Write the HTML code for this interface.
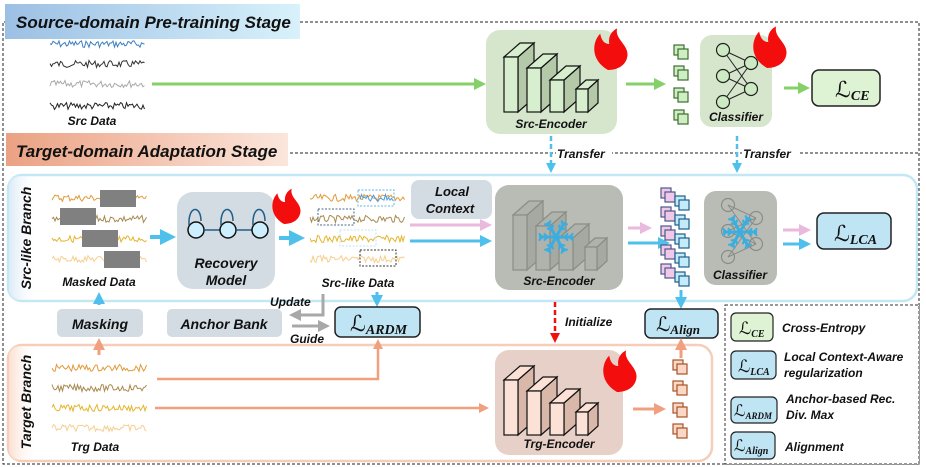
<!DOCTYPE html>
<html><head><meta charset="utf-8">
<style>
html,body{margin:0;padding:0;background:#fff;}
svg{display:block;font-family:"Liberation Sans",sans-serif;}
.t{font-weight:bold;font-style:italic;fill:#111;}
</style></head>
<body>
<svg id="s" width="926" height="467" viewBox="0 0 926 467" xmlns="http://www.w3.org/2000/svg">
<defs>
<linearGradient id="gb" x1="0" x2="1"><stop offset="0" stop-color="#9cc0e4"/><stop offset="1" stop-color="#d8f1fb"/></linearGradient>
<linearGradient id="gs" x1="0" x2="1"><stop offset="0" stop-color="#eba183"/><stop offset="1" stop-color="#fbe6dc"/></linearGradient>
<linearGradient id="gl" x1="0" x2="1"><stop offset="0" stop-color="#dcebf7"/><stop offset="1" stop-color="#fff" stop-opacity="0"/></linearGradient>
<linearGradient id="go" x1="0" x2="1"><stop offset="0" stop-color="#fbe0d3"/><stop offset="1" stop-color="#fff" stop-opacity="0"/></linearGradient>
<marker id="ag" markerWidth="4" markerHeight="4" refX="2" refY="2" orient="auto"><path d="M0,0 L4,2 L0,4z" fill="#86d06a"/></marker>
<marker id="ab" markerWidth="4" markerHeight="4" refX="2" refY="2" orient="auto"><path d="M0,0 L4,2 L0,4z" fill="#4fbfec"/></marker>
<marker id="ap" markerWidth="4" markerHeight="4" refX="2" refY="2" orient="auto"><path d="M0,0 L4,2 L0,4z" fill="#eab9de"/></marker>
<marker id="ao" markerWidth="4" markerHeight="4" refX="2" refY="2" orient="auto"><path d="M0,0 L4,2 L0,4z" fill="#f0a07f"/></marker>
<marker id="ar" markerWidth="4" markerHeight="4" refX="2" refY="2" orient="auto"><path d="M0,0 L4,2 L0,4z" fill="#f01010"/></marker>
<marker id="ay" markerWidth="4" markerHeight="4" refX="2" refY="2" orient="auto"><path d="M0,0 L4,2 L0,4z" fill="#a8a8a8"/></marker>
</defs>

<path d="M300,22 H919 V464 H3 V22 H6" fill="none" stroke="#222" stroke-width="1" stroke-dasharray="3,2"/>
<path d="M290,153 H919" fill="none" stroke="#222" stroke-width="1" stroke-dasharray="3,2"/>

<rect x="5" y="4" width="295" height="35" fill="url(#gb)"/>
<text x="16" y="28" class="t" font-size="17">Source-domain Pre-training Stage</text>
<rect x="6" y="133" width="282" height="33" fill="url(#gs)"/>
<text x="16" y="157" class="t" font-size="17">Target-domain Adaptation Stage</text>

<rect x="8" y="175" width="909" height="126" rx="14" fill="#fff" stroke="#c4e7f6" stroke-width="2.5"/>
<rect x="9" y="176" width="30" height="124" rx="10" fill="url(#gl)"/>
<text transform="translate(31,238) rotate(-90)" text-anchor="middle" class="t" font-size="14">Src-like Branch</text>
<rect x="8" y="345" width="704" height="116" rx="14" fill="#fff" stroke="#f6cdb9" stroke-width="2.5"/>
<rect x="9" y="346" width="30" height="114" rx="10" fill="url(#go)"/>
<text transform="translate(31,402) rotate(-90)" text-anchor="middle" class="t" font-size="14">Target Branch</text>

<rect x="725" y="305" width="194" height="159" fill="#fff" stroke="#333" stroke-dasharray="3,2"/>

<line x1="152" y1="84" x2="480" y2="84" stroke="#86d06a" stroke-width="3" marker-end="url(#ag)"/>
<line x1="626" y1="84" x2="660" y2="84" stroke="#86d06a" stroke-width="3" marker-end="url(#ag)"/>
<line x1="784" y1="88" x2="804" y2="88" stroke="#86d06a" stroke-width="3" marker-end="url(#ag)"/>

<rect x="486" y="30" width="131" height="104" rx="14" fill="#d5e6cc"/>
<text x="551" y="128" text-anchor="middle" class="t" font-size="12">Src-Encoder</text>
<rect x="700" y="35" width="72" height="92" rx="12" fill="#d5e6cc"/>
<text x="736" y="121" text-anchor="middle" class="t" font-size="12">Classifier</text>
<rect x="812" y="70" width="68" height="36" rx="7" fill="#ddf3d4" stroke="#222" stroke-width="1.5"/>
<text x="835" y="97" font-family="Liberation Serif,serif" font-size="22" fill="#111">ℒ<tspan font-size="14" font-style="italic" font-weight="bold" dy="3">CE</tspan></text>

<line x1="551" y1="136" x2="551" y2="168" stroke="#4fbfec" stroke-width="2.5" stroke-dasharray="5,3" marker-end="url(#ab)"/>
<line x1="737" y1="136" x2="737" y2="168" stroke="#4fbfec" stroke-width="2.5" stroke-dasharray="5,3" marker-end="url(#ab)"/>
<rect x="556" y="147" width="56" height="14" fill="#fff"/><text x="557" y="158" class="t" font-size="12">Transfer</text>
<rect x="742" y="147" width="56" height="14" fill="#fff"/><text x="743" y="158" class="t" font-size="12">Transfer</text>

<line x1="150" y1="237" x2="168" y2="237" stroke="#4fbfec" stroke-width="4" marker-end="url(#ab)"/>
<rect x="177" y="192" width="98" height="97" rx="16" fill="#d3dbe3"/>
<text x="226" y="268" text-anchor="middle" class="t" font-size="14">Recovery</text>
<text x="226" y="285" text-anchor="middle" class="t" font-size="14">Model</text>
<text x="99" y="286" text-anchor="middle" class="t" font-size="12">Masked Data</text>
<line x1="279" y1="238" x2="297" y2="238" stroke="#4fbfec" stroke-width="4" marker-end="url(#ab)"/>
<text x="358" y="287" text-anchor="middle" class="t" font-size="12">Src-like Data</text>
<rect x="411" y="180" width="81" height="39" rx="8" fill="#d3dbe3"/>
<text x="452" y="196" text-anchor="middle" class="t" font-size="13">Local</text>
<text x="450" y="213" text-anchor="middle" class="t" font-size="13">Context</text>
<line x1="410" y1="225" x2="486" y2="225" stroke="#eab9de" stroke-width="3" marker-end="url(#ap)"/>
<line x1="410" y1="241" x2="486" y2="241" stroke="#4fbfec" stroke-width="3" marker-end="url(#ab)"/>
<rect x="495" y="185" width="128" height="105" rx="14" fill="#b9bcb4"/>
<text x="559" y="285" text-anchor="middle" class="t" font-size="12">Src-Encoder</text>
<line x1="628" y1="228" x2="646" y2="228" stroke="#eab9de" stroke-width="3" marker-end="url(#ap)"/>
<line x1="628" y1="243" x2="664" y2="243" stroke="#4fbfec" stroke-width="3" marker-end="url(#ab)"/>
<rect x="704" y="191" width="73" height="94" rx="12" fill="#b9bcb4"/>
<text x="740" y="279" text-anchor="middle" class="t" font-size="12">Classifier</text>
<line x1="783" y1="230" x2="805" y2="230" stroke="#eab9de" stroke-width="3" marker-end="url(#ap)"/>
<line x1="783" y1="244" x2="805" y2="244" stroke="#4fbfec" stroke-width="3" marker-end="url(#ab)"/>
<rect x="817" y="213" width="74" height="36" rx="7" fill="#bfe5f5" stroke="#222" stroke-width="1.5"/>
<text x="834" y="241" font-family="Liberation Serif,serif" font-size="22" fill="#111">ℒ<tspan font-size="14" font-style="italic" font-weight="bold" dy="3">LCA</tspan></text>

<line x1="681" y1="290" x2="681" y2="303" stroke="#4fbfec" stroke-width="3" marker-end="url(#ab)"/>
<rect x="645" y="309" width="73" height="29" rx="6" fill="#bfe5f5" stroke="#222" stroke-width="1.5"/>
<text x="656" y="331" font-family="Liberation Serif,serif" font-size="20" fill="#111">ℒ<tspan font-size="13" font-style="italic" font-weight="bold" dy="3">Align</tspan></text>
<line x1="681" y1="358" x2="681" y2="344" stroke="#f0a07f" stroke-width="3" marker-end="url(#ao)"/>

<line x1="555" y1="302" x2="555" y2="338" stroke="#f01010" stroke-width="2.5" stroke-dasharray="5,3" marker-end="url(#ar)"/>
<text x="565" y="326" class="t" font-size="12">Initialize</text>

<line x1="99" y1="305" x2="99" y2="298" stroke="#4fbfec" stroke-width="3" marker-end="url(#ab)"/>
<rect x="57" y="309" width="86" height="28" rx="5" fill="#d3dbe3"/>
<text x="100" y="329" text-anchor="middle" class="t" font-size="14">Masking</text>
<rect x="167" y="309" width="115" height="28" rx="5" fill="#d3dbe3"/>
<text x="224" y="329" text-anchor="middle" class="t" font-size="14">Anchor Bank</text>
<path d="M323,294 V315 H295" fill="none" stroke="#a8a8a8" stroke-width="3" marker-end="url(#ay)"/>
<line x1="292" y1="326" x2="324" y2="326" stroke="#a8a8a8" stroke-width="3" marker-end="url(#ay)"/>
<text x="270" y="306" class="t" font-size="12">Update</text>
<text x="290" y="343" class="t" font-size="12">Guide</text>
<line x1="377" y1="292" x2="377" y2="301" stroke="#4fbfec" stroke-width="3" marker-end="url(#ab)"/>
<rect x="335" y="307" width="85" height="30" rx="6" fill="#bfe5f5" stroke="#222" stroke-width="1.5"/>
<text x="350" y="331" font-family="Liberation Serif,serif" font-size="22" fill="#111">ℒ<tspan font-size="14" font-style="italic" font-weight="bold" dy="3">ARDM</tspan></text>

<line x1="99" y1="355" x2="99" y2="344" stroke="#f0a07f" stroke-width="3" marker-end="url(#ao)"/>
<path d="M157,379 H378 V344" fill="none" stroke="#f0a07f" stroke-width="2.5" marker-end="url(#ao)"/>
<line x1="155" y1="408" x2="484" y2="408" stroke="#f0a07f" stroke-width="2.5" marker-end="url(#ao)"/>
<text x="95" y="451" text-anchor="middle" class="t" font-size="12">Trg Data</text>
<text x="92" y="125" text-anchor="middle" class="t" font-size="12">Src Data</text>
<rect x="495" y="350" width="128" height="105" rx="14" fill="#e7d0c7"/>
<text x="559" y="448" text-anchor="middle" class="t" font-size="12">Trg-Encoder</text>
<line x1="633" y1="409" x2="660" y2="409" stroke="#f0a07f" stroke-width="3" marker-end="url(#ao)"/>

<rect x="731" y="313" width="42" height="28" rx="5" fill="#ddf3d4" stroke="#222" stroke-width="1.2"/>
<text x="739" y="334" font-family="Liberation Serif,serif" font-size="17" fill="#111">ℒ<tspan font-size="10" font-style="italic" font-weight="bold" dy="3">CE</tspan></text>
<text x="782" y="332" class="t" font-size="12">Cross-Entropy</text>
<rect x="731" y="351" width="45" height="28" rx="5" fill="#bfe5f5" stroke="#222" stroke-width="1.2"/>
<text x="738" y="372" font-family="Liberation Serif,serif" font-size="17" fill="#111">ℒ<tspan font-size="10" font-style="italic" font-weight="bold" dy="3">LCA</tspan></text>
<text x="784" y="361" class="t" font-size="12">Local Context-Aware</text>
<text x="784" y="377" class="t" font-size="12">regularization</text>
<rect x="731" y="397" width="46" height="26" rx="5" fill="#bfe5f5" stroke="#222" stroke-width="1.2"/>
<text x="734" y="416" font-family="Liberation Serif,serif" font-size="16" fill="#111">ℒ<tspan font-size="9" font-style="italic" font-weight="bold" dy="3">ARDM</tspan></text>
<text x="786" y="403" class="t" font-size="12">Anchor-based Rec.</text>
<text x="786" y="419" class="t" font-size="12">Div. Max</text>
<rect x="731" y="432" width="44" height="27" rx="5" fill="#bfe5f5" stroke="#222" stroke-width="1.2"/>
<text x="734" y="451" font-family="Liberation Serif,serif" font-size="16" fill="#111">ℒ<tspan font-size="10" font-style="italic" font-weight="bold" dy="3">Align</tspan></text>
<text x="785" y="451" class="t" font-size="12">Alignment</text>

<g id="dyn"></g>
</svg>
<script>
var NS="http://www.w3.org/2000/svg",g=document.getElementById("dyn");
function el(t,a){var e=document.createElementNS(NS,t);for(var k in a)e.setAttribute(k,a[k]);g.appendChild(e);return e;}
var seed=7;function r(){seed=(seed*9301+49297)%233280;return seed/233280;}
function wave(x1,x2,y,c){var p=[];for(var x=x1;x<=x2;x+=1.5){p.push(x+","+(y+(r()-0.5)*7).toFixed(1));}el("polyline",{points:p.join(" "),fill:"none",stroke:c,"stroke-width":1});}
[["#3b7fc4",44],["#333",64],["#aaa",84],["#222",106]].forEach(function(w){wave(50,145,w[1],w[0]);});
var tc=["#e29a3a","#a88a4f","#e5b52f","#f6cf8f"];
[198,219,239,259].forEach(function(y,i){wave(52,147,y,tc[i]);wave(310,405,y,tc[i]);});
[368,388,408,428].forEach(function(y,i){wave(52,147,y,tc[i]);});
[[100,190],[60,208],[82,230],[104,251]].forEach(function(b){el("rect",{x:b[0],y:b[1],width:36,height:17,fill:"#808080"});});
[[358,190,"#5cb6e6"],[318,209,"#4a6a8a"],[340,230,"#bfe4f6"],[360,250,"#333"]].forEach(function(b){el("rect",{x:b[0],y:b[1],width:36,height:16,fill:"none",stroke:b[2],"stroke-dasharray":"2,1.5"});});
wave(360,394,198,"#4a9ee0");
[196,228,260].forEach(function(x,i){el("circle",{cx:x,cy:230,r:8,fill:"#cdeefc",stroke:"#111","stroke-width":1.5});el("path",{d:"M"+(x-7)+",225 C"+(x-8)+",205 "+(x+5)+",205 "+(x+5)+",221",fill:"none",stroke:"#1f5f8a","stroke-width":1.5});if(i<2)el("line",{x1:x+8,y1:230,x2:x+24,y2:230,stroke:"#1f5f8a","stroke-width":1.5});});
function blocks(x0,y0,fc,sc,lc){var bs=[[0,0,14,55],[23,11,14,44],[46,23,14,32],[72,32,12,23]];bs.forEach(function(b,i){var x=x0+b[0],y=y0+b[1],w=b[2],h=b[3],d=(i==3?10:16),dy=(i==3?9:14);
el("polygon",{points:[x+w,y,x+w+d,y-dy,x+w+d,y+h-dy,x+w,y+h].join(" "),fill:sc,stroke:lc,"stroke-width":1.2});
el("polygon",{points:[x,y,x+d,y-dy,x+w+d,y-dy,x+w,y].join(" "),fill:fc,stroke:lc,"stroke-width":1.2});
el("rect",{x:x,y:y,width:w,height:h,fill:fc,stroke:lc,"stroke-width":1.2});});}
blocks(504,57,"#d8efcf","#b3c9a8","#111");
blocks(513,215,"#b0b3ab","#a6a9a1","#8a8d86");
blocks(504,380,"#fbe1d6","#d9b8aa","#111");
function snow(cx,cy,s){for(var a=0;a<6;a++){var an=a*Math.PI/3,x=cx+Math.cos(an)*s,y=cy+Math.sin(an)*s;el("line",{x1:cx,y1:cy,x2:x,y2:y,stroke:"#3aaee0","stroke-width":3});for(var k=0.5;k<=0.8;k+=0.3){var bx=cx+Math.cos(an)*s*k,by=cy+Math.sin(an)*s*k;[0.8,-0.8].forEach(function(o){el("line",{x1:bx,y1:by,x2:bx+Math.cos(an+o)*s*0.3,y2:by+Math.sin(an+o)*s*0.3,stroke:"#3aaee0","stroke-width":2});});}}el("circle",{cx:cx,cy:cy,r:3,fill:"#3aaee0"});}
function net(x0,y0,c,st){var L=[[x0,y0],[x0,y0+26],[x0,y0+52]],R=[[x0+28,y0+13],[x0+28,y0+39]];L.forEach(function(a){R.forEach(function(b){el("line",{x1:a[0],y1:a[1],x2:b[0],y2:b[1],stroke:st,"stroke-width":1});});});L.concat(R).forEach(function(p){el("circle",{cx:p[0],cy:p[1],r:6.5,fill:c,stroke:st,"stroke-width":1.2});});}
net(723,50,"#cdebc3","#222");net(728,205,"none","#8a8d86");
snow(556,237,17);snow(740,232,17);
function cube(x,y,f,s){el("rect",{x:x,y:y,width:10,height:10,fill:f,stroke:s,"stroke-width":1.2});el("rect",{x:x+4,y:y+4,width:10,height:10,fill:f,stroke:s,"stroke-width":1.2});}
[45,66,88,110].forEach(function(y){cube(674,y,"#cfeec4","#3c6e2e");});
[360,381,403,424].forEach(function(y){cube(673,y,"#fbd7c6","#a6532a");});
for(var i=0;i<5;i++){cube(661,188+i*19,"#f2c8e8","#4a5a8a");cube(675,196+i*19,"#c3ebfa","#1f5f8a");}
function flame(x,y,s){el("path",{d:"M"+x+","+y+" c"+(-14*s)+","+(-8*s)+" "+(-12*s)+","+(-22*s)+" "+(-6*s)+","+(-28*s)+" c"+(1*s)+","+(6*s)+" "+(4*s)+","+(8*s)+" "+(7*s)+","+(8*s)+" c"+(-1*s)+","+(-6*s)+" "+(2*s)+","+(-10*s)+" "+(6*s)+","+(-12*s)+" c"+(-2*s)+","+(8*s)+" "+(8*s)+","+(12*s)+" "+(8*s)+","+(20*s)+" c0,"+(6*s)+" "+(-5*s)+","+(12*s)+" "+(-15*s)+","+(12*s)+"z",fill:"#f40d0d"});}
flame(608,70,1.3);flame(767,68,1.3);flame(284,224,1.1);flame(617,392,1.3);
</script>
</body></html>
